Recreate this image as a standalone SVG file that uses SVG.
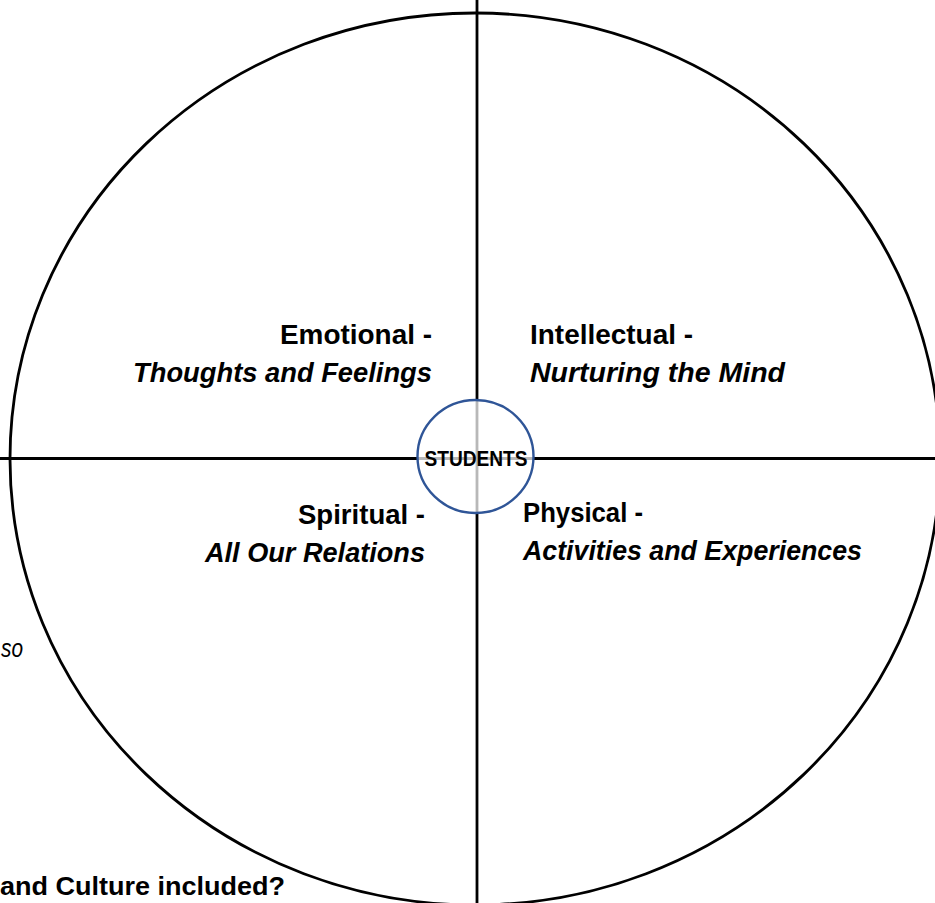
<svg xmlns="http://www.w3.org/2000/svg" width="935" height="903" viewBox="0 0 935 903">
<style>
.ln{stroke:#000;stroke-width:2.8;fill:none}
.t{font-family:"Liberation Sans",Arial,sans-serif;font-weight:bold;font-size:27px;fill:#000}
.i{font-style:italic}
</style>
<rect width="935" height="903" fill="#fff"/>
<g id="wheel">
<ellipse class="ln" cx="475" cy="459" rx="465" ry="446"/>
</g>
<g id="connectors">
<line class="ln" x1="0" y1="458.5" x2="935" y2="458.5"/>
<line class="ln" x1="477" y1="0" x2="477" y2="903"/>
</g>
<g id="students">
<ellipse cx="475.5" cy="456.5" rx="58" ry="56.5" fill="#fff" fill-opacity="0.72" stroke="#2F5597" stroke-width="2.4"/>
<text class="t" x="476" y="466" text-anchor="middle" textLength="103" lengthAdjust="spacingAndGlyphs" style="font-size:22px">STUDENTS</text>
</g>
<g id="emotional">
<text class="t" x="432" y="344" text-anchor="end" textLength="152" lengthAdjust="spacingAndGlyphs">Emotional -</text>
<text class="t i" x="432" y="382" text-anchor="end" textLength="299" lengthAdjust="spacingAndGlyphs">Thoughts and Feelings</text>
</g>
<g id="intellectual">
<text class="t" x="530" y="344" textLength="163" lengthAdjust="spacingAndGlyphs">Intellectual -</text>
<text class="t i" x="530" y="382" textLength="255" lengthAdjust="spacingAndGlyphs">Nurturing the Mind</text>
</g>
<g id="spiritual">
<text class="t" x="425" y="524" text-anchor="end" textLength="127" lengthAdjust="spacingAndGlyphs">Spiritual -</text>
<text class="t i" x="425" y="562" text-anchor="end" textLength="220" lengthAdjust="spacingAndGlyphs">All Our Relations</text>
</g>
<g id="physical">
<text class="t" x="523" y="522" textLength="120" lengthAdjust="spacingAndGlyphs">Physical -</text>
<text class="t i" x="523" y="560" textLength="339" lengthAdjust="spacingAndGlyphs">Activities and Experiences</text>
</g>
<g id="fragments">
<text x="1" y="657" textLength="22" lengthAdjust="spacingAndGlyphs" style="font-family:'Liberation Sans',Arial,sans-serif;font-style:italic;font-size:25px">so</text>
<text x="0" y="895" textLength="285" lengthAdjust="spacingAndGlyphs" style="font-family:'Liberation Sans',Arial,sans-serif;font-weight:bold;font-size:25px">and Culture included?</text>
</g>
</svg>
